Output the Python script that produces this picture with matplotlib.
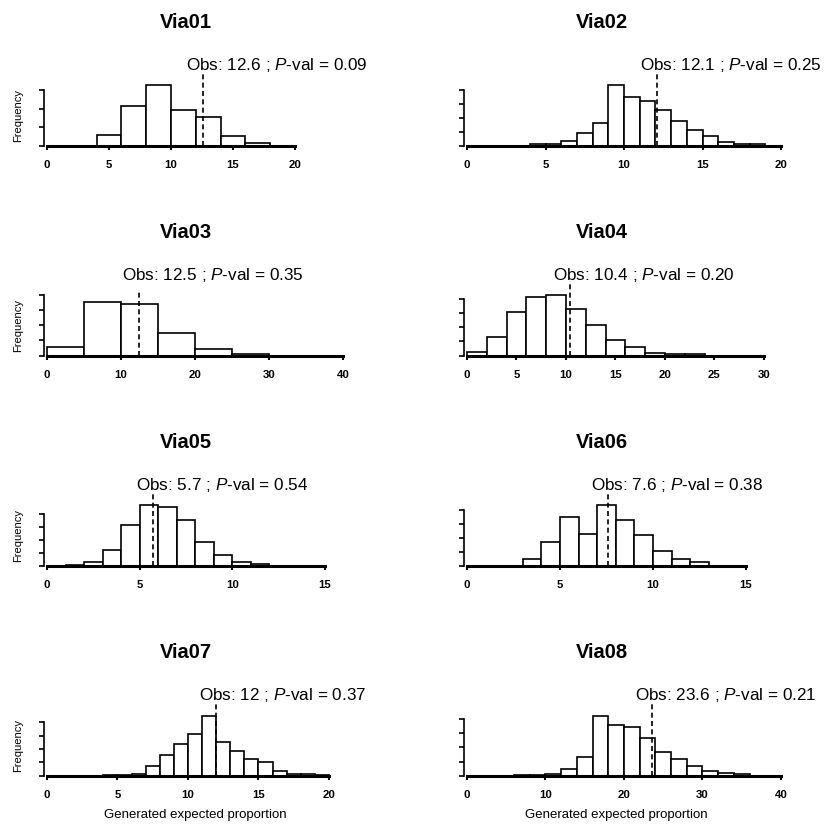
import matplotlib
matplotlib.use('Agg')
import matplotlib.pyplot as plt
import numpy as np

# ======================
# DATA
# ======================

names = ['Via01', 'Via02', 'Via03', 'Via04', 'Via05', 'Via06', 'Via07', 'Via08']

# histogram bins start at 0, one width per panel
bin_width = [2, 1, 5, 2, 1, 1, 1, 2]

counts_via01 = [0, 0, 56, 212, 327, 193, 156, 49, 11]
counts_via02 = [0, 0, 0, 0, 4, 7, 15, 44, 81, 217, 176, 159, 128, 87, 56, 33, 14, 7, 7]
counts_via03 = [54, 353, 343, 149, 41, 10]
counts_via04 = [12, 67, 155, 207, 214, 167, 107, 55, 31, 10, 6, 5]
counts_via05 = [0, 3, 13, 59, 156, 234, 228, 177, 91, 39, 15, 7]
counts_via06 = [0, 0, 0, 24, 83, 175, 114, 217, 164, 109, 54, 24, 12]
counts_via07 = [0, 0, 0, 0, 3, 3, 8, 38, 76, 119, 156, 225, 125, 94, 64, 50, 19, 5, 5, 3]
counts_via08 = [0, 0, 0, 2, 2, 6, 24, 67, 213, 179, 173, 132, 84, 59, 36, 15, 10, 5]
all_counts = [counts_via01, counts_via02, counts_via03, counts_via04,
              counts_via05, counts_via06, counts_via07, counts_via08]

obs_values = [12.6, 12.1, 12.5, 10.4, 5.7, 7.6, 12, 23.6]
p_values = [0.09, 0.25, 0.35, 0.20, 0.54, 0.38, 0.37, 0.21]

# axis tick ranges
x_tick_max = [20, 20, 40, 30, 15, 15, 20, 40]
x_tick_step = [5, 5, 10, 5, 5, 5, 5, 10]
y_tick_max = [300, 200, 400, 200, 200, 200, 200, 200]
y_tick_step = [100, 50, 100, 50, 50, 50, 50, 50]

# ======================
# LAYOUT (pixels)
# ======================

W, H = 826, 825
col_left = [47, 467]
col_right = [360, 790]
row_base = [145.5, 355.5, 565.5, 775.7]
bar_h = 60.2
xlim_max = [25.24, 20.57, 42.3, 32.63, 16.89, 17.37, 22.2, 41.15]
title_x = [186, 602]
xlabel_x = [195, 616]

plt.rcParams['font.family'] = ['Liberation Sans', 'DejaVu Sans']
plt.rcParams['mathtext.fontset'] = 'custom'
plt.rcParams['mathtext.rm'] = 'Liberation Sans'
plt.rcParams['mathtext.it'] = 'Liberation Sans:italic'

fig = plt.figure(figsize=(W / 100, H / 100), dpi=100)


def px_rect(left, base, width, height):
    return [left / W, 1 - base / H, width / W, height / H]


for i, name in enumerate(names):
    r, c = i // 2, i % 2
    counts = all_counts[i]
    bw = bin_width[i]
    edges = np.arange(len(counts)) * bw

    ax = fig.add_axes(px_rect(col_left[c], row_base[r], col_right[c] - col_left[c], bar_h))
    ax.bar(edges, counts, width=bw, align='edge', facecolor='white',
           edgecolor='black', linewidth=1.2, clip_on=False)
    ax.set_xlim(0, xlim_max[i])
    ax.set_ylim(0, max(counts))

    # observed value
    obs = obs_values[i]
    ax.plot([obs, obs], [0, max(counts) * 1.2], color='black', lw=1.2,
            ls=(0, (3, 2)), clip_on=False, zorder=3)
    ax.annotate(f'Obs: {obs:g} ; $P$-val = {p_values[i]:.2f}',
                xy=(obs, 1.25), xycoords=('data', 'axes fraction'),
                xytext=(-17, 0), textcoords='offset pixels',
                ha='left', va='baseline', fontsize=12.3)

    # axes in R style
    ax.set_xticks(np.arange(0, x_tick_max[i] + 1, x_tick_step[i]))
    ax.set_yticks(np.arange(0, y_tick_max[i] + 1, y_tick_step[i]))
    for s in ['top', 'right']:
        ax.spines[s].set_visible(False)
    ax.spines['bottom'].set_bounds(0, x_tick_max[i])
    ax.spines['bottom'].set_linewidth(2.2)
    ax.spines['left'].set_bounds(0, y_tick_max[i])
    ax.spines['left'].set_linewidth(1.2)
    ax.spines['left'].set_position(('outward', 2))
    ax.tick_params(axis='x', direction='out', length=3.2, width=1.5, pad=7, labelsize=8.2)
    ax.tick_params(axis='y', direction='out', length=3.6, width=1.2, labelleft=False)
    for lab in ax.get_xticklabels():
        lab.set_fontweight('bold')
    ax.patch.set_visible(False)

    fig.text(title_x[c] / W, 1 - (row_base[r] - 123) / H, name,
             ha='center', va='center', fontsize=14.5, fontweight='bold')
    if c == 0:
        fig.text(18 / W, 1 - (row_base[r] - 30) / H, 'Frequency', rotation=90,
                 ha='center', va='center', fontsize=8)
    if r == 3:
        fig.text(xlabel_x[c] / W, 1 - 815 / H, 'Generated expected proportion',
                 ha='center', va='center', fontsize=9.5)

fig.savefig('out.png', dpi=100)
